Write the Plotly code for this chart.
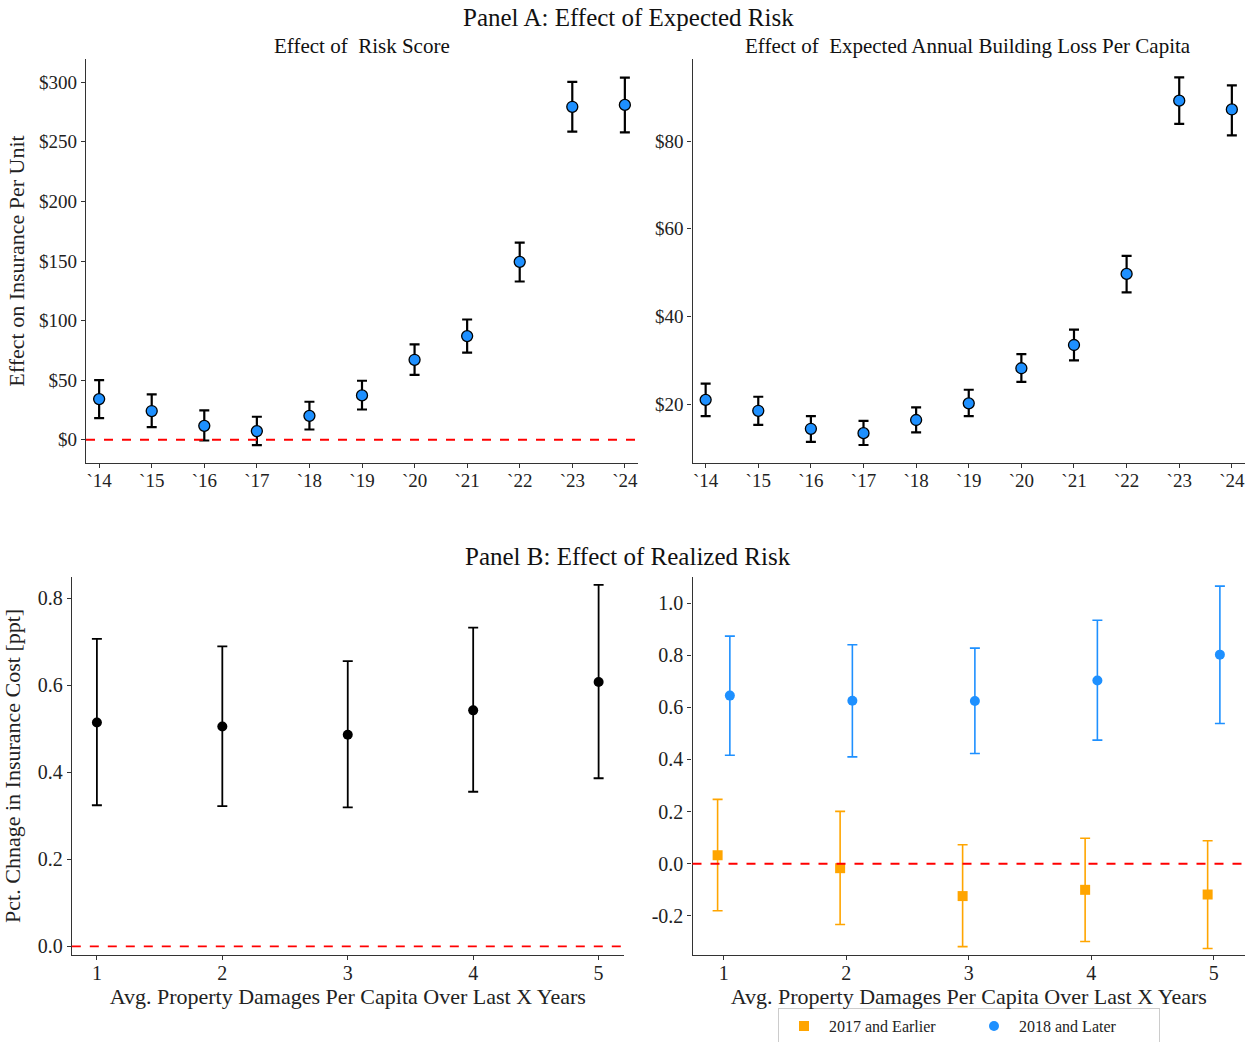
import plotly.graph_objects as go

# ---- Panel A data: event-study coefficients by year ----
years = ["`14", "`15", "`16", "`17", "`18", "`19", "`20", "`21", "`22", "`23", "`24"]

risk_score_est = [34.1, 24.1, 11.7, 7.3, 20.1, 37.2, 67.1, 87.0, 149.3, 279.4, 281.0]
risk_score_hi = [50.1, 38.0, 24.6, 19.3, 31.9, 49.5, 80.0, 100.9, 165.5, 300.3, 303.9]
risk_score_lo = [18.2, 10.6, -0.6, -4.5, 8.6, 25.4, 54.5, 73.2, 132.8, 258.6, 258.0]

eal_est = [21.0, 18.5, 14.4, 13.4, 16.4, 20.2, 28.2, 33.5, 49.7, 89.2, 87.2]
eal_hi = [24.7, 21.7, 17.3, 16.2, 19.3, 23.3, 31.4, 37.0, 53.8, 94.5, 92.7]
eal_lo = [17.3, 15.3, 11.4, 10.7, 13.6, 17.3, 25.1, 30.0, 45.5, 83.9, 81.3]

# ---- Panel B data: effect of realized damages over last X years ----
windows = [1, 2, 3, 4, 5]

pooled_est = [0.514, 0.505, 0.486, 0.542, 0.607]
pooled_hi = [0.706, 0.689, 0.655, 0.732, 0.830]
pooled_lo = [0.324, 0.322, 0.319, 0.355, 0.386]

early_est = [0.033, -0.017, -0.124, -0.100, -0.118]
early_hi = [0.247, 0.201, 0.073, 0.098, 0.088]
early_lo = [-0.180, -0.233, -0.318, -0.298, -0.325]

late_est = [0.645, 0.625, 0.624, 0.703, 0.802]
late_hi = [0.873, 0.840, 0.827, 0.934, 1.065]
late_lo = [0.416, 0.410, 0.423, 0.474, 0.538]

# Tick labels
risk_ticks = [0, 50, 100, 150, 200, 250, 300]
eal_ticks = [20, 40, 60, 80]
pooled_ticks = [0.0, 0.2, 0.4, 0.6, 0.8]
split_ticks = [-0.2, 0.0, 0.2, 0.4, 0.6, 0.8, 1.0]

FONT = "Liberation Serif"
BLUE = "#1E90FF"
ORANGE = "#FFA500"
AXIS_COLOR = "#333333"


def err(est, hi, lo, color, thickness, width):
    return dict(
        type="data",
        symmetric=False,
        array=[h - e for h, e in zip(hi, est)],
        arrayminus=[e - l for e, l in zip(est, lo)],
        color=color,
        thickness=thickness,
        width=width,
    )


def dollar(vals):
    return [f"${v}" for v in vals]


def plain(vals):
    # hyphen-minus, as in the typeset figure
    return [f"{v:.1f}".replace("\u2212", "-") for v in vals]


fig = go.Figure()

idx = list(range(len(years)))

# Top-left: risk score
fig.add_trace(go.Scatter(
    x=idx, y=risk_score_est, mode="markers", xaxis="x", yaxis="y",
    marker=dict(color=BLUE, size=11, line=dict(color="black", width=1.3)),
    error_y=err(risk_score_est, risk_score_hi, risk_score_lo, "black", 2.2, 5),
    showlegend=False,
))

# Top-right: expected annual building loss
fig.add_trace(go.Scatter(
    x=idx, y=eal_est, mode="markers", xaxis="x2", yaxis="y2",
    marker=dict(color=BLUE, size=11, line=dict(color="black", width=1.3)),
    error_y=err(eal_est, eal_hi, eal_lo, "black", 2.2, 5),
    showlegend=False,
))

# Bottom-left: pooled estimate
fig.add_trace(go.Scatter(
    x=windows, y=pooled_est, mode="markers", xaxis="x3", yaxis="y3",
    marker=dict(color="black", size=10),
    error_y=err(pooled_est, pooled_hi, pooled_lo, "black", 1.8, 5),
    showlegend=False,
))

# Bottom-right: split by period, slightly dodged
fig.add_trace(go.Scatter(
    x=[w - 0.05 for w in windows], y=early_est, mode="markers", xaxis="x4", yaxis="y4",
    name="2017 and Earlier",
    marker=dict(color=ORANGE, size=10, symbol="square"),
    error_y=err(early_est, early_hi, early_lo, ORANGE, 1.6, 5),
))
fig.add_trace(go.Scatter(
    x=[w + 0.05 for w in windows], y=late_est, mode="markers", xaxis="x4", yaxis="y4",
    name="2018 and Later",
    marker=dict(color=BLUE, size=10, symbol="circle"),
    error_y=err(late_est, late_hi, late_lo, BLUE, 1.6, 5),
))

tick_font = dict(family=FONT, size=19, color="#222222")
tick_font_b = dict(family=FONT, size=20, color="#222222")
title_font = dict(family=FONT, size=22, color="#222222")

axis_common = dict(
    showgrid=False, zeroline=False, showline=True, linecolor=AXIS_COLOR, linewidth=1.3,
    ticks="outside", ticklen=4, tickwidth=1.2, tickcolor=AXIS_COLOR, tickfont=tick_font,
    mirror=False,
)
xaxis_common = dict(axis_common, ticklabelstandoff=-4)

top_y = [1 - 463 / 1042, 1 - 59 / 1042]
bot_y = [1 - 955 / 1042, 1 - 576.7 / 1042]

fig.update_layout(
    width=1249, height=1042,
    margin=dict(l=0, r=0, t=0, b=0, autoexpand=False),
    paper_bgcolor="white", plot_bgcolor="white",
    font=dict(family=FONT, color="#222222"),
    xaxis=dict(xaxis_common, domain=[86 / 1249, 638 / 1249], anchor="y",
               range=[-0.25, 10.25], tickvals=idx, ticktext=years),
    yaxis=dict(axis_common, domain=top_y, anchor="x", range=[-19.5, 319.5],
               tickvals=risk_ticks, ticktext=dollar(risk_ticks),
               title=dict(text="Effect on Insurance Per Unit", font=title_font, standoff=8)),
    xaxis2=dict(xaxis_common, domain=[692.5 / 1249, 1245 / 1249], anchor="y2",
                range=[-0.25, 10.25], tickvals=idx, ticktext=years),
    yaxis2=dict(axis_common, domain=top_y, anchor="x2", range=[6.6, 98.7],
                tickvals=eal_ticks, ticktext=dollar(eal_ticks)),
    xaxis3=dict(xaxis_common, domain=[71.8 / 1249, 623.7 / 1249], anchor="y3",
                range=[0.8, 5.2], tickvals=windows, tickfont=tick_font_b,
                title=dict(text="Avg. Property Damages Per Capita Over Last X Years",
                           font=title_font, standoff=2)),
    yaxis3=dict(axis_common, domain=bot_y, anchor="x3", range=[-0.02, 0.849],
                tickvals=pooled_ticks, ticktext=plain(pooled_ticks), tickfont=tick_font_b,
                title=dict(text="Pct. Chnage in Insurance Cost [ppt]", font=title_font, standoff=10)),
    xaxis4=dict(xaxis_common, domain=[692.5 / 1249, 1245 / 1249], anchor="y4",
                range=[0.745, 5.255], tickvals=windows, tickfont=tick_font_b,
                title=dict(text="Avg. Property Damages Per Capita Over Last X Years",
                           font=title_font, standoff=2)),
    yaxis4=dict(axis_common, domain=bot_y, anchor="x4", range=[-0.35, 1.101],
                tickvals=split_ticks, ticktext=plain(split_ticks), tickfont=tick_font_b),
    legend=dict(
        orientation="h", x=969 / 1249, xanchor="center", y=-0.002, yanchor="bottom",
        bordercolor="#cccccc", borderwidth=1, bgcolor="white",
        font=dict(family=FONT, size=16, color="#222222"),
        itemwidth=40, entrywidth=135,
    ),
)

# Zero reference lines
for xr, yr in [("x", "y"), ("x3", "y3"), ("x4", "y4")]:
    fig.add_shape(type="line", xref=f"{xr} domain", yref=yr, x0=0, x1=1, y0=0, y1=0,
                  line=dict(color="red", width=1.8, dash="dash"), layer="above")

# Panel and subplot titles
titles = [
    ("Panel A: Effect of Expected Risk", 628, 17, 25),
    ("Effect of\u00a0 Risk Score", 362, 46, 21),
    ("Effect of\u00a0 Expected Annual Building Loss Per Capita", 968, 46, 21),
    ("Panel B: Effect of Realized Risk", 628, 556, 25),
]
for text, px, py, size in titles:
    fig.add_annotation(text=text, xref="paper", yref="paper", x=px / 1249, y=1 - py / 1042,
                       xanchor="center", yanchor="middle", showarrow=False,
                       font=dict(family=FONT, size=size, color="#111111"))

fig.write_html("out.html")
